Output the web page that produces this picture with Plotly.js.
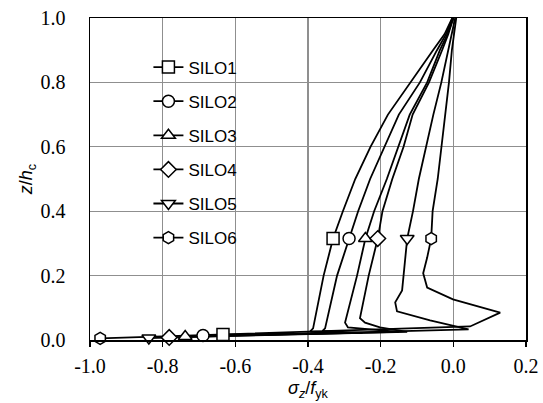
<!DOCTYPE html>
<html>
<head>
<meta charset="utf-8">
<script src="https://cdn.plot.ly/plotly-3.0.1.min.js"></script>
<style>
html,body{margin:0;padding:0;background:#fff;}
#chart{width:543px;height:403px;}
</style>
</head>
<body>
<div id="chart"></div>
<script>
// Series names
var siloNames = ["SILO1", "SILO2", "SILO3", "SILO4", "SILO5", "SILO6"];

// SILO1
var silo1X = [-0.003, -0.024, -0.056, -0.119, -0.180, -0.228, -0.270, -0.304, -0.331, -0.357, -0.386, -0.394, -0.300, -0.634];
var silo1Y = [1.0, 0.95, 0.9, 0.8, 0.7, 0.6, 0.5, 0.4, 0.315, 0.2, 0.036, 0.027, 0.022, 0.017];
// SILO2
var silo2X = [-0.002, -0.020, -0.045, -0.092, -0.150, -0.189, -0.229, -0.262, -0.287, -0.320, -0.353, -0.360, -0.250, -0.689];
var silo2Y = [1.0, 0.95, 0.9, 0.8, 0.7, 0.6, 0.5, 0.4, 0.315, 0.2, 0.036, 0.028, 0.022, 0.014];
// SILO3
var silo3X = [0.0, -0.016, -0.037, -0.072, -0.120, -0.151, -0.183, -0.218, -0.242, -0.265, -0.298, -0.290, -0.150, -0.738];
var silo3Y = [1.0, 0.95, 0.9, 0.8, 0.7, 0.6, 0.5, 0.4, 0.315, 0.2, 0.054, 0.039, 0.025, 0.011];
// SILO4
var silo4X = [0.0, -0.014, -0.031, -0.067, -0.112, -0.137, -0.168, -0.195, -0.208, -0.233, -0.257, -0.243, -0.202, -0.127, -0.782];
var silo4Y = [1.0, 0.95, 0.9, 0.8, 0.7, 0.6, 0.5, 0.4, 0.315, 0.2, 0.068, 0.054, 0.039, 0.025, 0.008];
// SILO5
var silo5X = [0.005, -0.014, -0.033, -0.055, -0.075, -0.095, -0.111, -0.127, -0.141, -0.160, -0.155, -0.064, 0.042, -0.838];
var silo5Y = [1.0, 0.9, 0.8, 0.7, 0.6, 0.5, 0.4, 0.315, 0.154, 0.117, 0.089, 0.061, 0.033, 0.006];
// SILO6
var silo6X = [0.008, -0.004, -0.012, -0.022, -0.034, -0.043, -0.057, -0.061, -0.072, -0.083, -0.072, -0.001, 0.129, 0.046, -0.972];
var silo6Y = [1.0, 0.9, 0.8, 0.7, 0.6, 0.5, 0.4, 0.315, 0.256, 0.207, 0.163, 0.126, 0.085, 0.042, 0.005];

// marker symbols per series
var siloSymbols = ["square", "circle", "triangle-up", "diamond", "triangle-down", "hexagon"];
var markerY = 0.315; // level at which the mid marker is drawn

// axis ticks
var xTickVals = [-1.0, -0.8, -0.6, -0.4, -0.2, 0.0, 0.2];
var xTickText = ["-1.0", "-0.8", "-0.6", "-0.4", "-0.2", "0.0", "0.2"];
var yTickVals = [0.0, 0.2, 0.4, 0.6, 0.8, 1.0];
var yTickText = ["0.0", "0.2", "0.4", "0.6", "0.8", "1.0"];

var allX = [silo1X, silo2X, silo3X, silo4X, silo5X, silo6X];
var allY = [silo1Y, silo2Y, silo3Y, silo4Y, silo5Y, silo6Y];

var serif = "Liberation Serif";
var sans = "Liberation Sans";

var traces = [];
var lineStyle = {color: "#000", width: 1.8};
for (var i = 0; i < 6; i++) {
  traces.push({
    type: "scatter", mode: "lines", x: allX[i], y: allY[i],
    line: lineStyle, showlegend: false, hoverinfo: "skip", legendgroup: "g" + i
  });
}
for (var i = 0; i < 6; i++) {
  var xs = allX[i], ys = allY[i];
  var k = ys.indexOf(markerY);
  var n = ys.length - 1;
  traces.push({
    type: "scatter", mode: "markers", x: [xs[k], xs[n]], y: [ys[k], ys[n]],
    marker: {symbol: siloSymbols[i], size: 12, color: "#fff", line: {color: "#000", width: 1.5}},
    showlegend: false, hoverinfo: "skip", legendgroup: "g" + i, cliponaxis: false
  });
}
for (var i = 0; i < 6; i++) {
  traces.push({
    type: "scatter", mode: "lines+markers", x: [null], y: [null], name: siloNames[i],
    line: lineStyle,
    marker: {symbol: siloSymbols[i], size: 12, color: "#fff", line: {color: "#000", width: 1.5}},
    legendgroup: "g" + i, showlegend: true
  });
}

var layout = {
  width: 543, height: 403,
  margin: {l: 90, r: 17, t: 18, b: 63},
  paper_bgcolor: "#fff", plot_bgcolor: "#fff",
  font: {family: serif, size: 20, color: "#000"},
  showlegend: true,
  legend: {
    x: 0.134, y: 0.902, xanchor: "left", yanchor: "top",
    bgcolor: "rgba(0,0,0,0)", borderwidth: 0,
    font: {family: sans, size: 17, color: "#000"},
    tracegroupgap: 9, traceorder: "grouped"
  },
  xaxis: {
    range: [-1.0, 0.2], tickvals: xTickVals, ticktext: xTickText,
    showline: true, linecolor: "#000", linewidth: 1.5, mirror: true,
    ticks: "outside", ticklen: 5, tickcolor: "#000", tickwidth: 1.5,
    showgrid: true, gridcolor: "#8f8f8f", gridwidth: 1.3, zeroline: false,
    tickfont: {family: serif, size: 20, color: "#000"},
    ticklabelstandoff: 2,
    title: {text: "<i>σ</i><sub><i>z</i></sub>/<i>f</i><sub>yk</sub>",
            font: {family: sans, size: 18, color: "#000"}, standoff: 6}
  },
  yaxis: {
    range: [0.0, 1.0], tickvals: yTickVals, ticktext: yTickText,
    showline: true, linecolor: "#000", linewidth: 1.5, mirror: true,
    ticks: "",
    showgrid: true, gridcolor: "#8f8f8f", gridwidth: 1.3, zeroline: false,
    tickfont: {family: serif, size: 20, color: "#000"},
    ticklabelstandoff: 19,
    title: {text: "<i>z</i>/<i>h</i><sub>c</sub>",
            font: {family: sans, size: 18, color: "#000"}, standoff: 3}
  }
};

Plotly.newPlot("chart", traces, layout, {staticPlot: true, displayModeBar: false});
</script>
</body>
</html>
